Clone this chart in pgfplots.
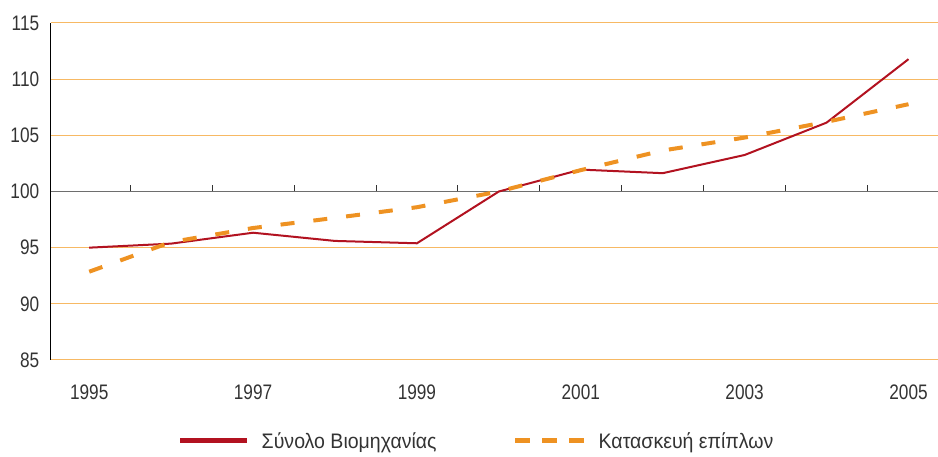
\documentclass[border=0pt]{standalone}
\usepackage{pgfplots}
\pgfplotsset{compat=1.18}
\usepackage{fontspec}
\setmainfont{Liberation Sans}[FakeStretch=0.82]
\newfontfamily\legfont{Liberation Sans}[FakeStretch=0.93]
\definecolor{gridc}{RGB}{247,185,100}
\definecolor{redl}{RGB}{178,18,32}
\definecolor{orl}{RGB}{238,146,34}
\definecolor{axg}{RGB}{110,110,110}
\begin{document}
\begin{tikzpicture}
\begin{axis}[
  scale only axis, width=887.3pt, height=337pt,
  xmin=-0.47, xmax=10.36, ymin=85, ymax=115,
  ytick={85,90,95,100,105,110,115},
  xtick={0,2,4,6,8,10},
  xticklabels={1995,1997,1999,2001,2003,2005},
  major tick length=0pt,
  axis x line*=bottom, axis y line*=left,
  x axis line style={draw=none, -},
  y axis line style={black, line width=0.8pt, -},
  ymajorgrids, grid style={gridc, line width=1pt},
  tick label style={font=\fontsize{21}{24}\selectfont, text=black!80},
  /pgf/number format/assume math mode=true,
  yticklabel style={xshift=-8pt},
  xticklabel style={yshift=-21pt},
  legend columns=2,
  legend style={draw=none, fill=none, at={(0.48,0)}, anchor=center, yshift=-81pt,
    font=\legfont\fontsize{21}{24}\selectfont, text=black!80,
    /tikz/every even column/.append style={column sep=74pt},
    /tikz/every odd column/.append style={column sep=10pt}},
  clip=true,
]
\draw[axg, line width=0.9pt] (axis cs:-0.47,100) -- (axis cs:10.36,100);
\pgfplotsinvokeforeach{0.5,1.5,2.5,3.5,4.5,5.5,6.5,7.5,8.5,9.5}{
  \draw[black!80, line width=0.9pt] (axis cs:#1,100) -- ++(0pt,6pt);
}
\addplot[redl, line width=2pt, mark=none,
  legend image code/.code={\draw[redl, line width=5pt] (0pt,0pt) -- (67pt,0pt);}]
  coordinates {(0,95.0) (1,95.36) (2,96.33) (3,95.6) (4,95.39) (5,100.0) (6,101.95) (7,101.63) (8,103.25) (9,106.13) (10,111.78)};
\addlegendentry{Σύνολο Βιομηχανίας}
\addplot[orl, line width=4pt, mark=none, dash pattern=on 14pt off 19pt,
  legend image code/.code={\draw[orl, line width=5pt, dash pattern=on 15pt off 12pt] (0pt,0pt) -- (69pt,0pt);}]
  coordinates {(0,92.86) (1,95.5) (2,96.75) (3,97.65) (4,98.6) (5,100.0) (6,101.9) (7,103.65) (8,104.8) (9,106.2) (10,107.77)};
\addlegendentry{Κατασκευή επίπλων}
\end{axis}
\pgfresetboundingbox
\path (current axis.south west) ++(-50.7pt,-97pt) rectangle ++(938pt,457pt);
\end{tikzpicture}
\end{document}
